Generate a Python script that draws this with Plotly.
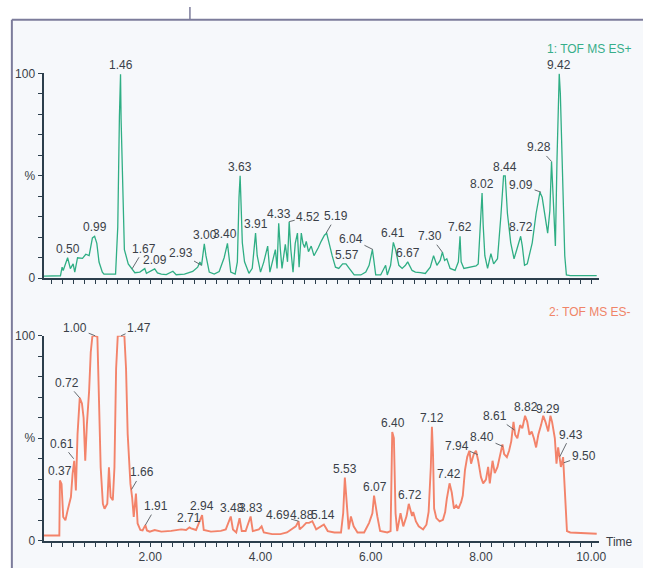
import plotly.graph_objects as go

# ---------------- data ----------------
top_t = [0.07, 0.20, 0.37, 0.40, 0.42, 0.50, 0.55, 0.60, 0.63, 0.68, 0.77, 0.83, 0.89, 0.95, 0.99,
         1.03, 1.07, 1.13, 1.16, 1.37, 1.41, 1.44, 1.46, 1.47, 1.50, 1.53, 1.60, 1.66, 1.72, 1.81,
         1.90, 1.93, 2.08, 2.13, 2.20, 2.29, 2.41, 2.47, 2.62, 2.77, 2.86, 2.90, 2.93, 2.98, 3.01,
         3.07, 3.16, 3.25, 3.34, 3.40, 3.46, 3.54, 3.58, 3.61, 3.63, 3.64, 3.67, 3.71, 3.79, 3.85,
         3.91, 3.94, 4.00, 4.06, 4.13, 4.17, 4.24, 4.27, 4.30, 4.33, 4.36, 4.39, 4.45, 4.49, 4.52,
         4.55, 4.59, 4.63, 4.67, 4.70, 4.74, 4.77, 4.80, 4.83, 4.87, 4.92, 4.97, 5.01, 5.05, 5.10,
         5.16, 5.20, 5.24, 5.30, 5.36, 5.42, 5.49, 5.55, 5.61, 5.70, 5.82, 5.91, 5.97, 6.03, 6.06,
         6.09, 6.18, 6.27, 6.30, 6.36, 6.41, 6.45, 6.51, 6.57, 6.63, 6.67, 6.75, 6.81, 6.90, 6.99,
         7.08, 7.14, 7.20, 7.26, 7.30, 7.34, 7.38, 7.44, 7.53, 7.59, 7.62, 7.64, 7.69, 7.79, 7.91,
         7.95, 7.99, 8.02, 8.04, 8.07, 8.12, 8.18, 8.23, 8.30, 8.36, 8.41, 8.44, 8.48, 8.54, 8.60,
         8.65, 8.72, 8.75, 8.79, 8.84, 8.93, 9.00, 9.07, 9.11, 9.17, 9.21, 9.25, 9.28, 9.31, 9.35,
         9.38, 9.42, 9.44, 9.48, 9.52, 9.55, 9.62, 10.10]
top_i = [1.0, 1.0, 1.2, 5.4, 3.8, 10, 4.7, 7, 3, 10, 9.7, 11.7, 11, 19.7, 20.5,
         17, 7.9, 3, 2, 2, 25, 79, 99.5, 78, 47, 14, 7, 4.6, 2.7, 3,
         4.7, 2.4, 4.6, 2.6, 2, 1.8, 3.4, 1.7, 2, 3.3, 5.4, 7.9, 6.3, 16.8, 11,
         3, 2, 3.3, 10, 17, 3, 2, 8, 39.5, 50, 42, 17.3, 8, 2.4, 4.8,
         22, 11, 3, 8, 15.7, 3, 11, 14, 4.8, 26.8, 14, 4.8, 16.5, 8, 27.6,
         14, 3, 17, 22, 5.4, 22, 17, 15, 18, 13, 15.7, 11, 12.7, 15, 18,
         21, 22, 17, 11, 5.4, 4.8, 7, 7, 4.8, 1.6, 1.6, 3, 6.3, 14, 8,
         1.6, 1.6, 6.3, 1.6, 6.3, 17.5, 14, 6.3, 4.8, 6.3, 8, 3.8, 3, 2.7, 2.3,
         5.4, 11, 6.3, 8.7, 12.7, 8.7, 9.5, 4.8, 3.8, 8, 20.5, 8, 4.8, 5.4, 6,
         7, 30, 41.6, 26, 11, 4.8, 12, 7, 9.5, 30, 50, 50, 31.6, 17.3, 9.5,
         14, 20.5, 15.7, 6.3, 7, 17.3, 31.6, 42, 39.5, 30, 22, 33, 57, 39.5, 15.7,
         58.7, 99.8, 90, 50, 11, 1.6, 1.3, 1.3]

bot_t = [0.07, 0.35, 0.36, 0.39, 0.42, 0.46, 0.50, 0.56, 0.59, 0.62, 0.65, 0.68, 0.72, 0.76, 0.79,
         0.82, 0.85, 0.89, 0.92, 0.95, 1.00, 1.04, 1.07, 1.10, 1.14, 1.17, 1.22, 1.25, 1.28, 1.32,
         1.35, 1.38, 1.41, 1.47, 1.53, 1.56, 1.59, 1.64, 1.67, 1.70, 1.74, 1.77, 1.82, 1.86, 1.91,
         1.94, 1.99, 2.08, 2.20, 2.38, 2.56, 2.65, 2.71, 2.74, 2.83, 2.94, 2.97, 3.10, 3.28, 3.37,
         3.46, 3.50, 3.56, 3.62, 3.66, 3.73, 3.82, 3.86, 3.97, 4.02, 4.06, 4.21, 4.36, 4.48, 4.57,
         4.64, 4.69, 4.71, 4.77, 4.83, 4.88, 4.94, 5.01, 5.10, 5.15, 5.22, 5.34, 5.46, 5.50, 5.53,
         5.57, 5.60, 5.64, 5.69, 5.76, 5.88, 5.97, 6.03, 6.06, 6.09, 6.12, 6.17, 6.30, 6.36, 6.39,
         6.42, 6.45, 6.48, 6.54, 6.59, 6.65, 6.69, 6.72, 6.75, 6.77, 6.82, 6.87, 6.95, 7.01, 7.05,
         7.09, 7.11, 7.13, 7.15, 7.19, 7.25, 7.31, 7.35, 7.38, 7.43, 7.47, 7.51, 7.55, 7.59, 7.64,
         7.67, 7.71, 7.75, 7.79, 7.82, 7.87, 7.91, 7.95, 8.00, 8.04, 8.09, 8.13, 8.16, 8.21, 8.25,
         8.30, 8.34, 8.39, 8.42, 8.47, 8.51, 8.55, 8.59, 8.62, 8.66, 8.71, 8.75, 8.80, 8.84, 8.88,
         8.92, 8.96, 9.00, 9.04, 9.09, 9.13, 9.17, 9.22, 9.26, 9.29, 9.34, 9.37, 9.40, 9.43, 9.45,
         9.49, 9.51, 9.54, 9.56, 9.62, 10.10]
bot_i = [2.5, 2.5, 29.4, 27.7, 11.6, 10, 14.8, 21.3, 32.6, 39, 24.5, 52, 69.7, 67, 60,
         39, 56.8, 73, 92, 100, 100, 99.5, 68, 35.8, 18, 15.6, 18, 35.8, 21.3, 19.7,
         35.8, 84, 100, 100, 100, 84, 52, 27.7, 21.3, 11.6, 23, 8.4, 5.2, 5.0, 7.6,
         5.0, 4.4, 5.2, 4.4, 4.8, 5.5, 5.2, 6.5, 6, 5.2, 12.5, 5.2, 4.4, 4.8, 5.5,
         11.8, 5.5, 4, 11, 4.7, 4.7, 11.8, 4.7, 5.5, 7, 4, 3.2, 3.2, 4, 5.5,
         7, 9.5, 5.5, 7, 8.7, 8.7, 9.5, 5.5, 7, 7.9, 4.7, 4, 4, 13.4, 30.8,
         16.6, 5.5, 11.8, 7, 4, 4, 8.7, 13.4, 22, 16.6, 11.8, 4.7, 4, 4.7, 53,
         50, 13.4, 4.7, 13.4, 7, 12, 18, 15, 12, 14, 9.4, 7, 5.5, 7.8, 14,
         36, 55.6, 42, 15.7, 11, 9.4, 10.2, 14, 20.4, 28, 23.5, 15.7, 17.2, 15.7, 18.8,
         22, 34.5, 40.8, 43.9, 37.6, 42.3, 43.9, 39, 31, 28, 29.8, 36, 28, 39, 33,
         36, 40.8, 47, 42.3, 40.8, 43.9, 48.6, 58, 51.7, 50, 56.4, 54.9, 61, 58, 51.7,
         53.3, 50, 45.5, 51.7, 56.4, 61, 58, 53.3, 61, 58, 50, 37.6, 45.5, 40.8, 36,
         40.8, 29.8, 20.4, 4.7, 4, 3.4]

top_peak_t = [0.50, 0.99, 1.46, 1.67, 2.09, 2.93, 3.00, 3.40, 3.63, 3.91, 4.33, 4.52, 5.19,
              5.57, 6.04, 6.41, 6.67, 7.30, 7.62, 8.02, 8.44, 8.72, 9.09, 9.28, 9.42]
top_peak_i = [10, 20.5, 99.5, 4.6, 4.6, 6.3, 16.8, 17, 50, 22, 26.8, 27.6, 22,
              7, 14, 17.5, 8, 12.7, 20.5, 41.6, 50, 20.5, 42, 57, 99.8]
bot_peak_t = [0.37, 0.61, 0.72, 1.00, 1.47, 1.66, 1.91, 2.71, 2.94, 3.48, 3.83, 4.69, 4.88,
              5.14, 5.53, 6.07, 6.40, 6.72, 7.12, 7.42, 7.94, 8.40, 8.61, 8.82, 9.29, 9.43, 9.50]
bot_peak_i = [29.4, 40, 69.7, 100, 100, 25, 7.6, 6.5, 12.5, 11.8, 11.8, 9.5, 8.7,
              7.9, 30.8, 22, 53, 18, 55.6, 28, 42, 46, 54, 61, 60, 41, 38]

x_tick_labels = {2: "2.00", 4: "4.00", 6: "6.00", 8: "8.00", 10: "10.00"}
y_tick_labels = {0: "0", 50: "%", 100: "100"}
top_title = "1: TOF MS ES+"
bot_title = "2: TOF MS ES-"
x_title = "Time"

# ---------------- layout helpers (positions / styles) ----------------
W, H = 650, 575
def px(v): return v / W
def py(v): return 1 - v / H

top_leaders = {1.67: (12, -20), 2.93: (-21, -12), 4.52: (19, -5), 5.19: (10, -17),
               6.04: (-22, -11), 7.30: (-12, -16), 9.09: (-20, -7), 9.28: (-13, -14)}
bot_leaders = {0.61: (-12, -15), 0.72: (-13, -15), 1.00: (-20, -8), 1.47: (18, -8),
               1.66: (10, -17), 1.91: (11, -19), 4.69: (-21, -6), 4.88: (-7, -8),
               7.94: (-21, -9), 8.40: (-21, -9), 8.61: (-20, -14), 9.43: (11, -22),
               9.50: (20, -7)}
bot_xshift = {9.29: -4}
top_xshift = {3.40: -2}

GREEN = "#2fae84"
SALMON = "#f3836a"
AXIS = "#2c3e4c"
TXT = "#3a3f48"
FONT = "Liberation Sans, Arial, sans-serif"

fig = go.Figure()
fig.add_trace(go.Scatter(x=top_t, y=top_i, mode="lines", xaxis="x", yaxis="y",
                         line=dict(color=GREEN, width=1.3), hoverinfo="skip"))
fig.add_trace(go.Scatter(x=bot_t, y=bot_i, mode="lines", xaxis="x2", yaxis="y2",
                         line=dict(color=SALMON, width=1.9), hoverinfo="skip"))

xdom = [px(44), px(606)]
xr = [0.063, 10.15]
minor_vals = [round(0.2 * k, 1) for k in range(1, 51)]
xt_text = [x_tick_labels.get(int(round(v)), "") if abs(v - round(v)) < 1e-9 else "" for v in minor_vals]
yvals = list(range(0, 101, 10))
yt_text = [y_tick_labels.get(v, "") for v in yvals]

common_x = dict(range=xr, domain=xdom, showline=True, linecolor=AXIS, linewidth=2,
                ticks="outside", ticklen=4, tickwidth=1, tickcolor=AXIS, tickvals=minor_vals,
                showgrid=False, zeroline=False, fixedrange=True,
                tickfont=dict(family=FONT, size=12, color=TXT))
common_y = dict(range=[0, 100], showline=True, linecolor=AXIS, linewidth=2,
                ticks="outside", ticklen=4, tickwidth=1, tickcolor=AXIS, tickvals=yvals,
                ticktext=yt_text, showgrid=False, zeroline=False, fixedrange=True,
                tickfont=dict(family=FONT, size=12, color=TXT))

fig.update_layout(
    width=W, height=H, margin=dict(l=0, r=0, t=0, b=0),
    paper_bgcolor="white", plot_bgcolor="rgba(0,0,0,0)", showlegend=False,
    xaxis=dict(common_x, anchor="y", showticklabels=False),
    yaxis=dict(common_y, anchor="x", domain=[py(278), py(68)]),
    xaxis2=dict(common_x, anchor="y2", ticktext=xt_text, showticklabels=True),
    yaxis2=dict(common_y, anchor="x2", domain=[py(547), py(337)]),
    font=dict(family=FONT, color=TXT),
)

FRAME = "#7c7c9b"
shapes = [
    dict(type="rect", xref="paper", yref="paper", x0=px(12), x1=1, y0=0, y1=py(13),
         fillcolor="#f6f8fb", line=dict(width=0), layer="below"),
    dict(type="line", xref="paper", yref="paper", x0=px(12), x1=px(12), y0=0, y1=py(13),
         line=dict(color=FRAME, width=2)),
    dict(type="line", xref="paper", yref="paper", x0=px(12), x1=1, y0=py(13), y1=py(13),
         line=dict(color=FRAME, width=2)),
    dict(type="line", xref="paper", yref="paper", x0=px(192), x1=px(192), y0=py(13), y1=1,
         line=dict(color=FRAME, width=1.5)),
]
fig.update_layout(shapes=shapes)

ann = []
def add_labels(ts, vals, leaders, xr_, yr_, xshifts):
    for t, v in zip(ts, vals):
        txt = f"{t:.2f}"
        if t in leaders:
            ax, ay = leaders[t]
            ann.append(dict(x=t, y=v, xref=xr_, yref=yr_, text=txt, showarrow=True,
                            arrowhead=0, arrowwidth=0.9, arrowcolor="#555a60", standoff=0,
                            ax=ax, ay=ay, font=dict(family=FONT, size=12, color=TXT)))
        else:
            ann.append(dict(x=t, y=v, xref=xr_, yref=yr_, text=txt, showarrow=False,
                            yanchor="bottom", yshift=0, xshift=xshifts.get(t, 0),
                            font=dict(family=FONT, size=12, color=TXT)))

add_labels(top_peak_t, top_peak_i, top_leaders, "x", "y", top_xshift)
add_labels(bot_peak_t, bot_peak_i, bot_leaders, "x2", "y2", bot_xshift)

ann.append(dict(x=px(641), y=py(43), xref="paper", yref="paper", text=top_title,
                showarrow=False, xanchor="right", yanchor="middle",
                font=dict(family=FONT, size=12, color="#36ae8a")))
ann.append(dict(x=px(640), y=py(313), xref="paper", yref="paper", text=bot_title,
                showarrow=False, xanchor="right", yanchor="middle",
                font=dict(family=FONT, size=12, color="#f08468")))
ann.append(dict(x=px(611), y=py(548), xref="paper", yref="paper", text=x_title,
                showarrow=False, xanchor="left", yanchor="middle",
                font=dict(family=FONT, size=12, color=TXT)))
fig.update_layout(annotations=ann)

fig.write_html("out.html", config={"displayModeBar": False},
               post_script="document.body.style.margin='0';document.body.style.overflow='hidden';")
